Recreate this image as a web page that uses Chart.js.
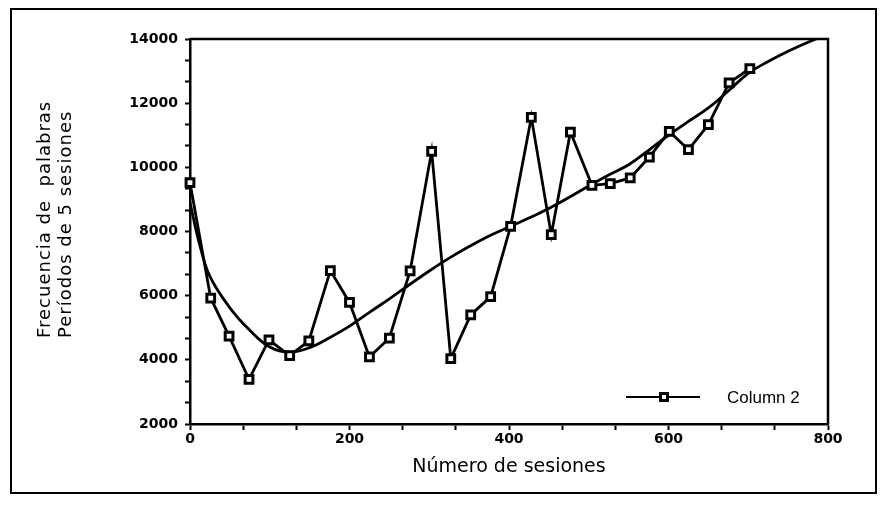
<!DOCTYPE html>
<html>
<head>
<meta charset="utf-8">
<script src="https://cdn.jsdelivr.net/npm/chart.js@4.4.1/dist/chart.umd.min.js"></script>
<style>
  html, body { margin: 0; padding: 0; background: #fff; }
</style>
</head>
<body>
<canvas id="chart" width="886" height="509"></canvas>
<script>
// Datos
const sesiones = [0, 26, 49, 74, 99, 125, 149, 176, 200, 225, 250, 276, 303, 327, 352,
                  377, 402, 428, 453, 477, 504, 527, 552, 576, 601, 625, 650, 676, 702];
const frecuencia = [9520, 5920, 4740, 3390, 4620, 4130, 4590, 6780, 5790, 4090, 4680, 6770, 10500, 4040, 5400,
                    5970, 8160, 11560, 7900, 11100, 9440, 9490, 9670, 10320, 11120, 10550, 11330, 12630, 13080];

// curva de ajuste
const ajusteX = [0, 12, 25, 50, 75, 100, 125, 150, 175, 200, 225, 250, 275, 300, 325, 350, 375, 400,
                 425, 450, 475, 500, 525, 550, 575, 600, 625, 650, 675, 700, 725, 750, 775, 800];
const ajusteY = [8900, 7600, 6600, 5620, 4920, 4400, 4240, 4380, 4690, 5050, 5480, 5900, 6340, 6770, 7170, 7530, 7860, 8140,
                 8420, 8720, 9060, 9420, 9760, 10080, 10530, 11000, 11430, 11850, 12380, 12930, 13300, 13620, 13900, 14150];

const xTickLabels = [0, 200, 400, 600, 800];
const yTickLabels = [2000, 4000, 6000, 8000, 10000, 12000, 14000];
const yTitle = ['Frecuencia de  palabras', 'Períodos de 5 sesiones'];
const serieLabel = 'Column 2';

// marco exterior + caja del gráfico
const framePlugin = {
    id: 'frame',
    beforeDraw(chart) {
        const ctx = chart.ctx;
        ctx.save();
        ctx.fillStyle = '#fff';
        ctx.fillRect(0, 0, chart.width, chart.height);
        ctx.strokeStyle = '#000';
        ctx.lineWidth = 2;
        ctx.strokeRect(11, 9, 865, 484);
        ctx.restore();
    },
    afterDraw(chart) {
        const {ctx, chartArea: a} = chart;
        ctx.save();
        ctx.strokeStyle = '#000';
        ctx.lineWidth = 2.5;
        ctx.beginPath();
        ctx.moveTo(a.left, a.top);
        ctx.lineTo(a.right, a.top);
        ctx.lineTo(a.right, a.bottom);
        ctx.stroke();

        // título eje Y (dos líneas, giradas)
        ctx.fillStyle = '#000';
        ctx.font = '18px "DejaVu Sans"';
        ctx.letterSpacing = '1px';
        ctx.textAlign = 'left';
        ctx.textBaseline = 'alphabetic';
        const baseX = [50, 71];
        yTitle.forEach((t, i) => {
            ctx.save();
            ctx.translate(baseX[i], a.bottom - 86);
            ctx.rotate(-Math.PI / 2);
            ctx.fillText(t, 0, 0);
            ctx.restore();
        });
        ctx.letterSpacing = '0px';

        // leyenda dentro del área
        const ly = a.bottom - 27;
        const lx0 = a.right - 202, lx1 = a.right - 128, mx = a.right - 164;
        ctx.lineWidth = 2;
        ctx.beginPath();
        ctx.moveTo(lx0, ly);
        ctx.lineTo(lx1, ly);
        ctx.stroke();
        ctx.fillStyle = '#000';
        ctx.fillRect(mx - 5, ly - 5, 10, 10);
        ctx.fillStyle = '#fff';
        ctx.fillRect(mx - 2, ly - 2, 4, 4);
        ctx.fillStyle = '#000';
        ctx.font = '17px "Liberation Sans"';
        ctx.textBaseline = 'middle';
        ctx.fillText(serieLabel, a.right - 101, ly + 1);
        ctx.restore();
    }
};

new Chart(document.getElementById('chart'), {
    type: 'line',
    data: {
        datasets: [{
            label: serieLabel,
            data: sesiones.map((x, i) => ({ x: x, y: frecuencia[i] })),
            borderColor: '#000',
            borderWidth: 2.8,
            tension: 0,
            pointStyle: 'rect',
            pointRadius: 5.5,
            pointBorderWidth: 3,
            pointBorderColor: '#000',
            pointBackgroundColor: '#fff',
            clip: false
        }, {
            label: 'Ajuste',
            data: ajusteX.map((x, i) => ({ x: x, y: ajusteY[i] })),
            borderColor: '#000',
            borderWidth: 2.8,
            tension: 0.4,
            pointRadius: 0,
            fill: false
        }]
    },
    options: {
        responsive: false,
        animation: false,
        devicePixelRatio: 1,
        layout: { padding: { left: 0, top: 39, right: 58, bottom: 0 } },
        plugins: {
            legend: { display: false },
            tooltip: { enabled: false }
        },
        scales: {
            x: {
                type: 'linear',
                min: 0,
                max: 800,
                afterFit: s => { s.height = 85; },
                ticks: {
                    count: 13,
                    autoSkip: false,
                    maxRotation: 0,
                    padding: 1,
                    color: '#000',
                    font: { family: 'DejaVu Sans', size: 14, weight: 'bold' },
                    callback: v => xTickLabels.includes(Math.round(v)) ? String(Math.round(v)) : ''
                },
                grid: { drawOnChartArea: false, tickLength: 6, tickWidth: 2, tickColor: '#000' },
                border: { color: '#000', width: 2.5 },
                title: {
                    display: true,
                    text: 'Número de sesiones',
                    color: '#000',
                    font: { family: 'DejaVu Sans', size: 19, lineHeight: 1.2 },
                    padding: { top: 0, bottom: 31 }
                }
            },
            y: {
                min: 2000,
                max: 14000,
                afterFit: s => { s.width = 190; },
                ticks: {
                    count: 19,
                    autoSkip: false,
                    padding: 7,
                    color: '#000',
                    font: { family: 'DejaVu Sans', size: 14, weight: 'bold' },
                    callback: v => yTickLabels.includes(Math.round(v)) ? String(Math.round(v)) : ''
                },
                grid: { drawOnChartArea: false, tickLength: 5, tickWidth: 2, tickColor: '#000' },
                border: { color: '#000', width: 2.5 }
            }
        }
    },
    plugins: [framePlugin]
});
</script>
</body>
</html>
